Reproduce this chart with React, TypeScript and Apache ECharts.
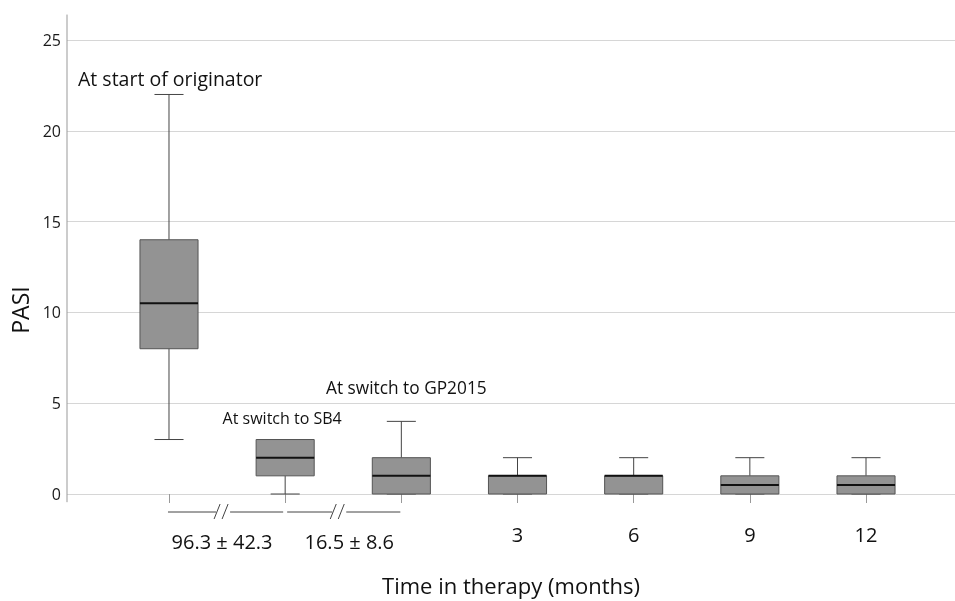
import React, { useEffect, useRef } from 'react';
import * as echarts from 'echarts';

const positions = [1, 2, 3, 4, 5, 6, 7];
const mins = [3, 0, 0, 0, 0, 0, 0];
const q1s = [8, 1, 0, 0, 0, 0, 0];
const medians = [10.5, 2, 1, 1, 1, 0.5, 0.5];
const q3s = [14, 3, 2, 1, 1, 1, 1];
const maxs = [22, 3, 4, 2, 2, 2, 2];
const tickLabels = ['', '', '', '3', '6', '9', '12'];
const labelPositions = [4, 5, 6, 7];
const intervalLabels = ['96.3 ± 42.3', '16.5 ± 8.6'];
const phaseLabels = ['At start of originator', 'At switch to SB4', 'At switch to GP2015'];
const phaseValues = [22.9, 4.18, 5.84];
const yAxisTitle = 'PASI';

const FONT = 'Open Sans';
const X_MIN = 0.122;
const X_MAX = 7.766;

export default function App() {
  const ref = useRef<HTMLDivElement>(null);
  useEffect(() => {
    if (!ref.current) return;
    const chart = echarts.init(ref.current, null, { renderer: 'svg' });
    const data = positions.map((p, i) => [p, mins[i], q1s[i], medians[i], q3s[i], maxs[i]]);
    chart.setOption({
      animation: false,
      grid: { left: 67, right: 0, top: 40, bottom: 107, containLabel: false, outerBoundsMode: 'none' },
      xAxis: {
        type: 'value',
        min: X_MIN,
        max: X_MAX,
        axisLine: { show: false },
        splitLine: { show: false },
        axisTick: { show: true, customValues: positions, length: 9, lineStyle: { color: '#999' } },
        axisLabel: {
          customValues: labelPositions,
          formatter: (v: number) => tickLabels[Math.round(v) - 1],
          fontSize: 20,
          color: '#111',
          margin: 30,
          fontFamily: FONT,
        },
        name: 'Time in therapy (months)',
        nameLocation: 'middle',
        nameGap: 80,
        nameTextStyle: { fontSize: 22, lineHeight: 22, color: '#111', fontFamily: FONT },
      },
      yAxis: {
        type: 'value',
        min: 0,
        max: 25,
        interval: 5,
        axisLine: { show: false },
        axisTick: { show: false },
        splitLine: { lineStyle: { color: '#d6d6d6' } },
        axisLabel: { fontSize: 16, color: '#1a1a1a', margin: 6, fontFamily: FONT },
      },
      series: [
        {
          type: 'custom',
          data,
          encode: { x: 0, y: [1, 2, 3, 4, 5] },
          renderItem: (params: any, api: any) => {
            const x = api.value(0);
            const cx = api.coord([x, 0])[0];
            const yMin = api.coord([x, api.value(1)])[1];
            const yQ1 = api.coord([x, api.value(2)])[1];
            const yMed = api.coord([x, api.value(3)])[1];
            const yQ3 = api.coord([x, api.value(4)])[1];
            const yMax = api.coord([x, api.value(5)])[1];
            const bw = api.size([1, 0])[0] * 0.5;
            const cw = bw * 0.5;
            const ws = { stroke: '#444', lineWidth: 1 };
            return {
              type: 'group',
              children: [
                { type: 'line', shape: { x1: cx, y1: yQ3, x2: cx, y2: yMax }, style: ws },
                { type: 'line', shape: { x1: cx, y1: yQ1, x2: cx, y2: yMin }, style: ws },
                { type: 'line', shape: { x1: cx - cw / 2, y1: yMax, x2: cx + cw / 2, y2: yMax }, style: ws },
                { type: 'line', shape: { x1: cx - cw / 2, y1: yMin, x2: cx + cw / 2, y2: yMin }, style: ws },
                {
                  type: 'rect',
                  shape: { x: cx - bw / 2, y: yQ3, width: bw, height: yQ1 - yQ3 },
                  style: { fill: '#939393', stroke: '#555', lineWidth: 1 },
                },
                {
                  type: 'line',
                  shape: { x1: cx - bw / 2, y1: yMed, x2: cx + bw / 2, y2: yMed },
                  style: { stroke: '#111', lineWidth: 2 },
                },
              ],
            };
          },
        },
      ],
    });

    const px = (x: number, y: number) => chart.convertToPixel({ seriesIndex: 0 }, [x, y]) as number[];
    const top = px(X_MIN, 26.4);
    const bottom = px(X_MIN, -0.45);
    const y0 = px(1, 0)[1];
    const c = positions.map((p) => px(p, 0)[0]);
    const lineStyle = { stroke: '#444', lineWidth: 1 };
    const graphics: any[] = [
      { type: 'line', shape: { x1: top[0], y1: top[1], x2: bottom[0], y2: bottom[1] }, style: { stroke: '#999', lineWidth: 1 } },
    ];
    const titlePos = px(X_MIN, 10.13);
    graphics.push({
      type: 'text',
      x: titlePos[0] - 47,
      y: titlePos[1],
      rotation: Math.PI / 2,
      style: { text: yAxisTitle, fontSize: 23, fontFamily: FONT, fill: '#111', align: 'center', verticalAlign: 'middle' },
    });
    const breakY = y0 + 18;
    [0, 1].forEach((i) => {
      const a = c[i] + (i === 0 ? -1 : 2);
      const b = c[i + 1] - (i === 0 ? 2 : 1);
      const mid = (c[i] + c[i + 1]) / 2;
      const s = mid - 13;
      graphics.push(
        { type: 'line', shape: { x1: a, y1: breakY, x2: s + 2, y2: breakY }, style: lineStyle },
        { type: 'line', shape: { x1: s + 16, y1: breakY, x2: b, y2: breakY }, style: lineStyle },
        { type: 'line', shape: { x1: s, y1: breakY + 7, x2: s + 6, y2: breakY - 8 }, style: lineStyle },
        { type: 'line', shape: { x1: s + 8, y1: breakY + 7, x2: s + 14, y2: breakY - 8 }, style: lineStyle },
        {
          type: 'text',
          x: mid + (i === 0 ? -5 : 6),
          y: y0 + 47,
          style: { text: intervalLabels[i], fontSize: 20, fontFamily: FONT, fill: '#111', align: 'center', verticalAlign: 'middle' },
        }
      );
    });
    const p0 = px(1, phaseValues[0]);
    graphics.push({
      type: 'text',
      x: p0[0] - 91,
      y: p0[1],
      style: { text: phaseLabels[0], fontSize: 19.5, fontFamily: FONT, fill: '#111', align: 'left', verticalAlign: 'middle' },
    });
    const p1 = px(2, phaseValues[1]);
    graphics.push({
      type: 'text',
      x: p1[0] - 3,
      y: p1[1],
      style: { text: phaseLabels[1], fontSize: 16, fontFamily: FONT, fill: '#111', align: 'center', verticalAlign: 'middle' },
    });
    const p2 = px(3, phaseValues[2]);
    graphics.push({
      type: 'text',
      x: p2[0] + 5,
      y: p2[1],
      style: { text: phaseLabels[2], fontSize: 17.3, fontFamily: FONT, fill: '#111', align: 'center', verticalAlign: 'middle' },
    });
    chart.setOption({ graphic: graphics });

    return () => chart.dispose();
  }, []);
  return <div ref={ref} style={{ position: 'fixed', left: 0, top: 0, width: 955, height: 601 }} />;
}
